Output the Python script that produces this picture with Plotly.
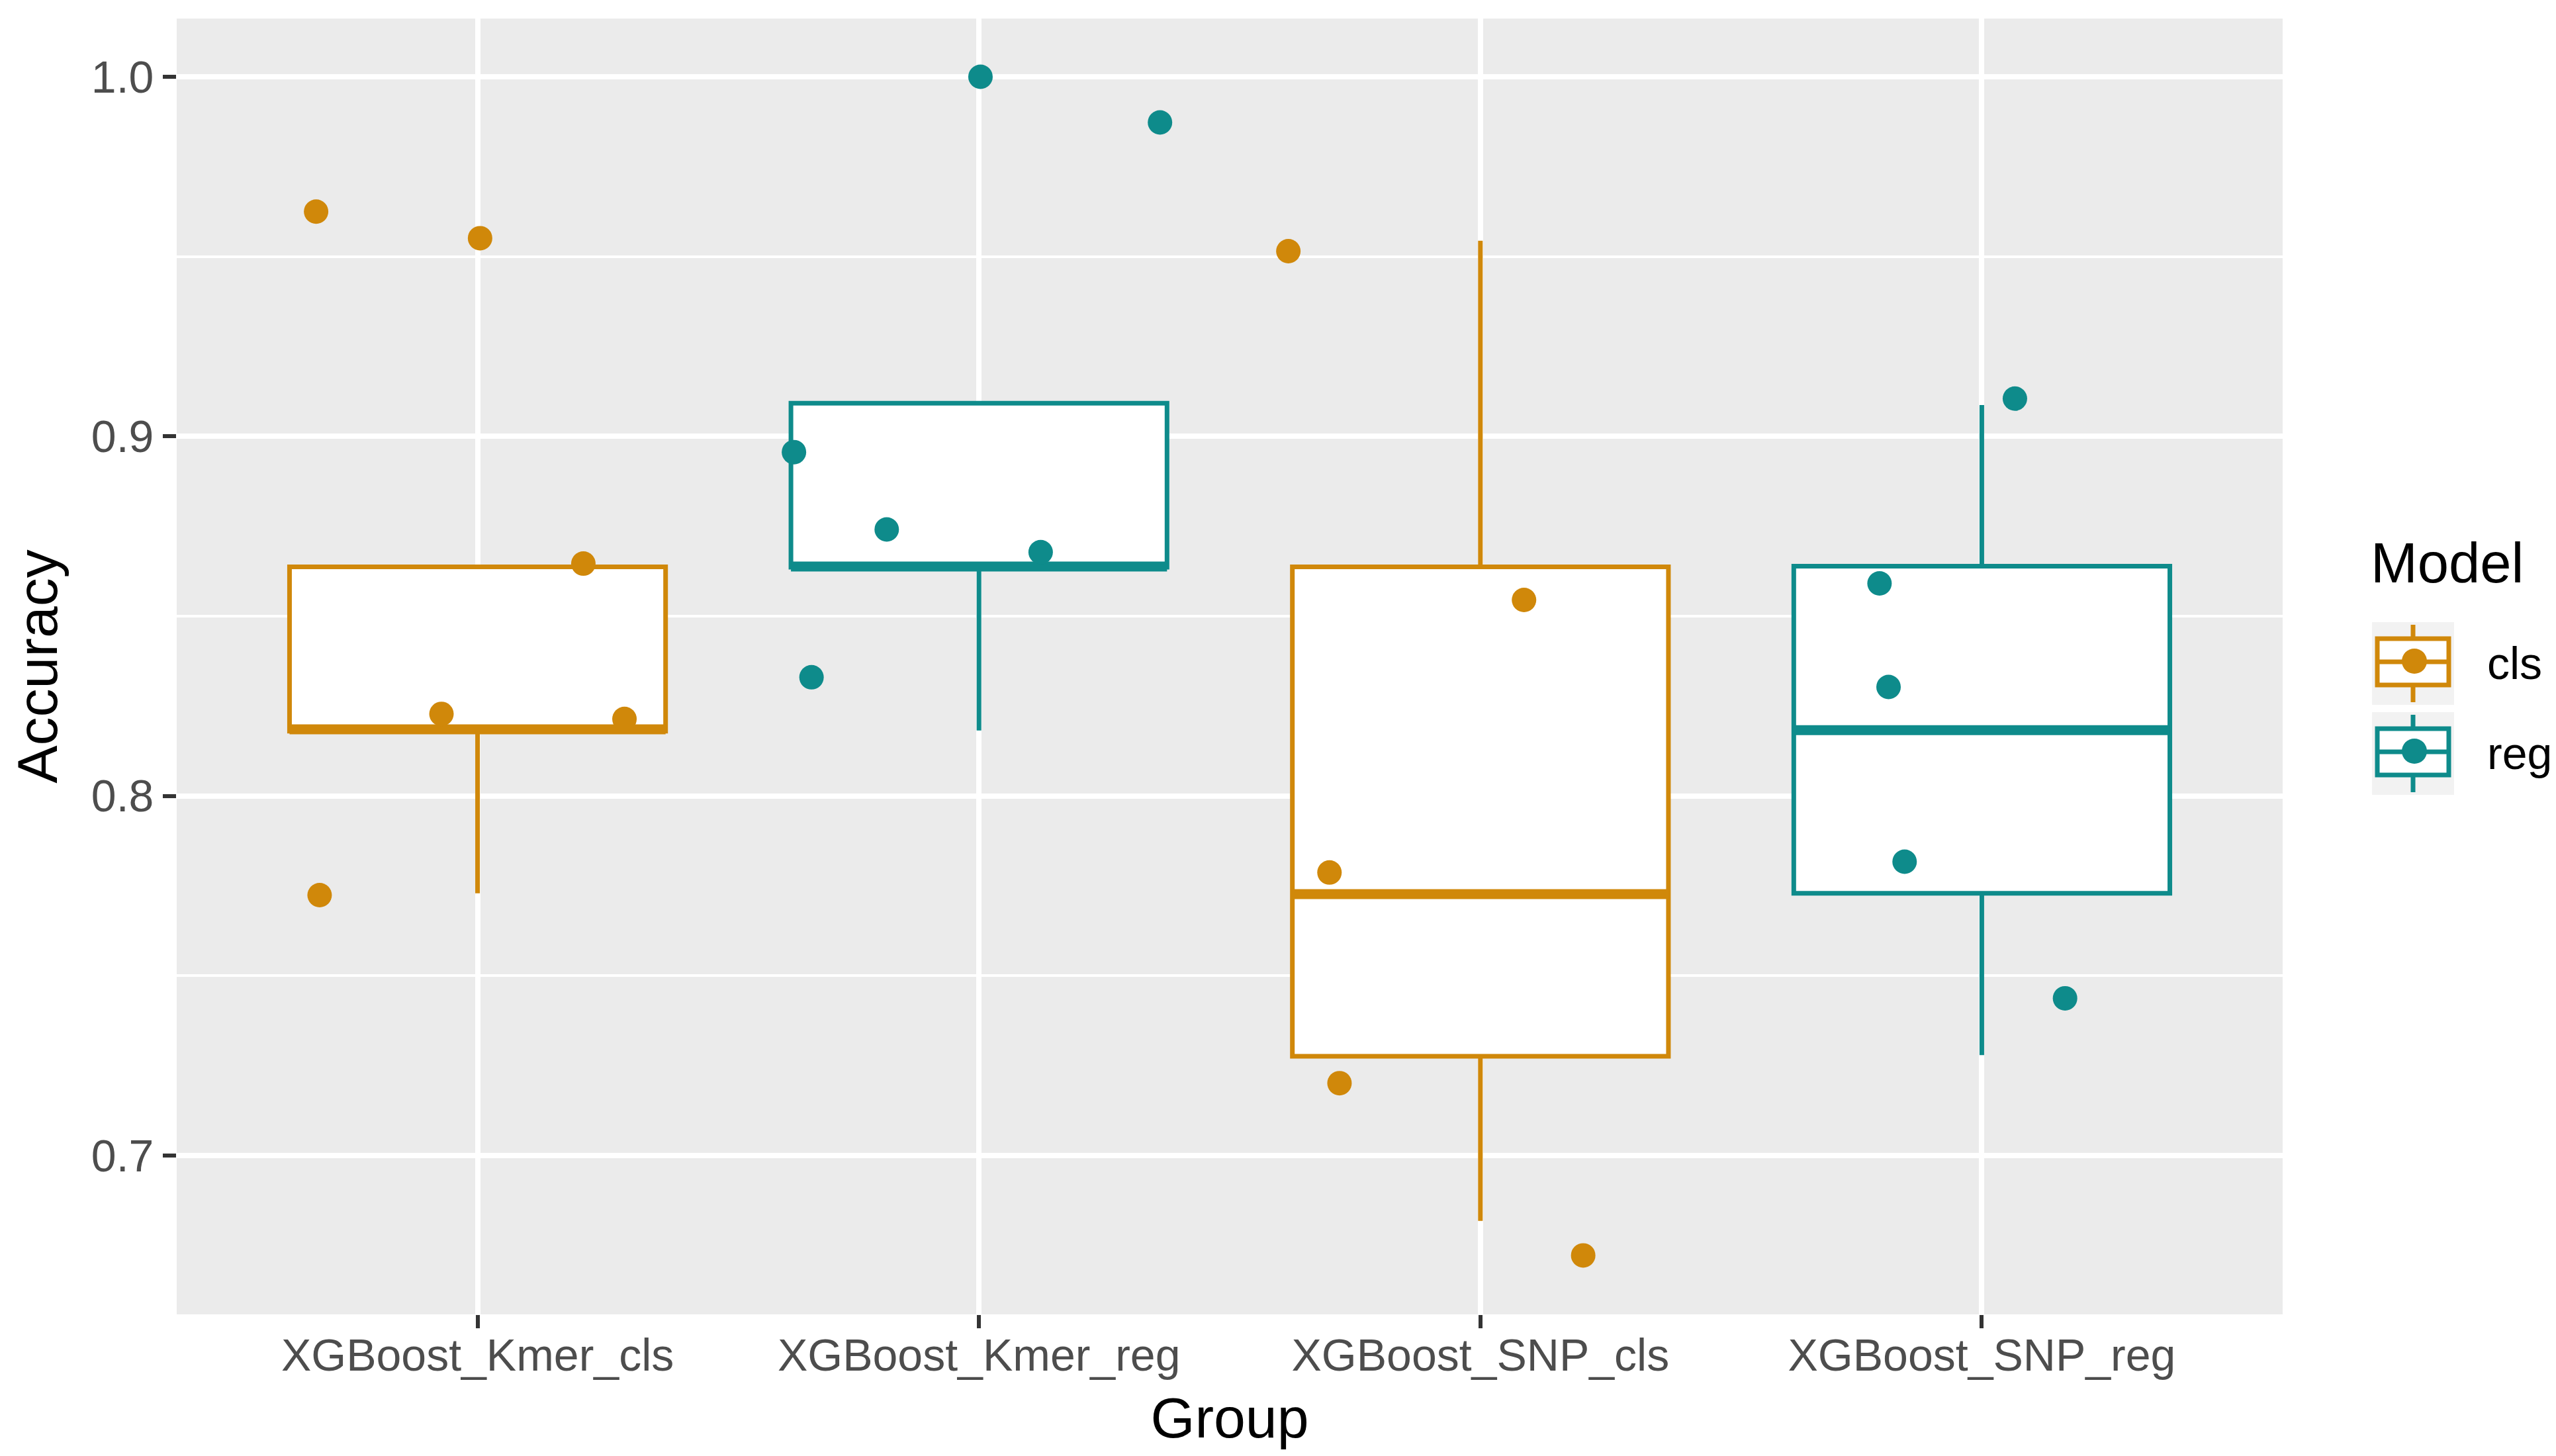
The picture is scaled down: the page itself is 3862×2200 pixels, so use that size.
import plotly.graph_objects as go

# ---- data ----
groups = ["XGBoost_Kmer_cls", "XGBoost_Kmer_reg", "XGBoost_SNP_cls", "XGBoost_SNP_reg"]
group_model = ["cls", "reg", "cls", "reg"]

box_lower = [0.7729, 0.8182, 0.6818, 0.7279]
box_q1 = [0.8180, 0.8636, 0.7276, 0.7729]
box_median = [0.8185, 0.8638, 0.7727, 0.8183]
box_q3 = [0.8637, 0.9092, 0.8637, 0.8639]
box_upper = [0.8637, 0.9092, 0.9544, 0.9087]

pt_group = [0, 0, 0, 0, 0, 0, 1, 1, 1, 1, 1, 1, 2, 2, 2, 2, 2, 3, 3, 3, 3, 3]
pt_jitter = [-0.322, 0.005, 0.211, -0.072, 0.293, -0.315,
             0.003, 0.361, -0.369, -0.184, 0.123, -0.334,
             -0.383, 0.087, -0.301, -0.281, 0.205,
             0.066, -0.204, -0.186, -0.154, 0.166]
pt_acc = [0.9625, 0.9551, 0.8646, 0.8228, 0.8214, 0.7724,
          1.0000, 0.9873, 0.8956, 0.8741, 0.8678, 0.8330,
          0.9515, 0.8545, 0.7787, 0.7201, 0.6722,
          0.9105, 0.8591, 0.8303, 0.7817, 0.7437]

models = ["cls", "reg"]
colors = {"cls": "#D0880A", "reg": "#0E8B8B"}

BOX_W = 0.75
FONT = "Liberation Sans, Arial, sans-serif"

fig = go.Figure()

# boxes
for m in models:
    idx = [i for i, g in enumerate(group_model) if g == m]
    fig.add_trace(go.Box(
        x=idx,
        q1=[box_q1[i] for i in idx],
        median=[box_median[i] for i in idx],
        q3=[box_q3[i] for i in idx],
        lowerfence=[box_lower[i] for i in idx],
        upperfence=[box_upper[i] for i in idx],
        width=BOX_W,
        whiskerwidth=0,
        boxpoints=False,
        fillcolor="white",
        line=dict(color=colors[m], width=7),
        showlegend=False,
        hoverinfo="skip",
    ))

# thick median lines (ggplot fatten = 2)
for m in models:
    mx, my = [], []
    for i, g in enumerate(group_model):
        if g == m:
            mx += [i - BOX_W / 2, i + BOX_W / 2, None]
            my += [box_median[i], box_median[i], None]
    fig.add_trace(go.Scatter(x=mx, y=my, mode="lines",
                             line=dict(color=colors[m], width=15),
                             showlegend=False, hoverinfo="skip"))

# jittered points
for m in models:
    xs = [pt_group[k] + pt_jitter[k] for k in range(len(pt_acc)) if group_model[pt_group[k]] == m]
    ys = [pt_acc[k] for k in range(len(pt_acc)) if group_model[pt_group[k]] == m]
    fig.add_trace(go.Scatter(x=xs, y=ys, mode="markers", name=m,
                             marker=dict(color=colors[m], size=37, line=dict(width=0)),
                             showlegend=False))

# ---- hand-made ggplot style legend (pixel helpers) ----
L, R, T, B = 259, 3441, 20, 1978


def px(X):
    return (X - L) / (R - L)


def py(Y):
    return 1 - (Y - T) / (B - T)


shapes = []
annotations = [dict(text="Model", x=px(3572), y=py(842), xref="paper", yref="paper",
                    xanchor="left", yanchor="middle", showarrow=False,
                    font=dict(family=FONT, size=85, color="black"))]
for k, m in enumerate(models):
    top = 932 + k * 136
    c = colors[m]
    shapes.append(dict(type="rect", xref="paper", yref="paper", layer="above",
                       x0=px(3576), x1=px(3700), y0=py(top), y1=py(top + 125),
                       fillcolor="#F2F2F2", line=dict(width=0)))
    shapes.append(dict(type="line", xref="paper", yref="paper", layer="above",
                       x0=px(3638), x1=px(3638), y0=py(top + 4), y1=py(top + 121),
                       line=dict(color=c, width=7)))
    shapes.append(dict(type="rect", xref="paper", yref="paper", layer="above",
                       x0=px(3584), x1=px(3692), y0=py(top + 25), y1=py(top + 95),
                       fillcolor="white", line=dict(color=c, width=7)))
    shapes.append(dict(type="line", xref="paper", yref="paper", layer="above",
                       x0=px(3584), x1=px(3692), y0=py(top + 60), y1=py(top + 60),
                       line=dict(color=c, width=7)))
    shapes.append(dict(type="circle", xref="paper", yref="paper", layer="above",
                       x0=px(3621), x1=px(3659), y0=py(top + 40), y1=py(top + 78),
                       fillcolor=c, line=dict(width=0)))
    annotations.append(dict(text=m, x=px(3748), y=py(top + 62), xref="paper", yref="paper",
                            xanchor="left", yanchor="middle", showarrow=False,
                            font=dict(family=FONT, size=68, color="black")))

fig.update_layout(
    width=3862, height=2200,
    margin=dict(l=L, r=3862 - R, t=T, b=2200 - B, autoexpand=False),
    paper_bgcolor="white",
    plot_bgcolor="#EBEBEB",
    showlegend=False,
    font=dict(family=FONT),
    shapes=shapes,
    annotations=annotations,
)

fig.update_xaxes(
    range=[-0.6, 3.6],
    tickmode="array", tickvals=list(range(len(groups))), ticktext=groups,
    showgrid=True, gridcolor="white", gridwidth=8,
    zeroline=False, showline=False,
    ticks="outside", ticklen=20, tickwidth=6, tickcolor="#333333",
    ticklabelstandoff=-18,
    tickfont=dict(family=FONT, size=68, color="#4D4D4D"),
    title=dict(text="Group", font=dict(family=FONT, size=86, color="black"), standoff=28),
)

fig.update_yaxes(
    range=[0.6558, 1.0162],
    tickmode="array", tickvals=[0.7, 0.8, 0.9, 1.0], ticktext=["0.7", "0.8", "0.9", "1.0"],
    showgrid=True, gridcolor="white", gridwidth=8,
    minor=dict(tickvals=[0.75, 0.85, 0.95], showgrid=True, gridcolor="white", gridwidth=4, ticks=""),
    zeroline=False, showline=False,
    ticks="outside", ticklen=20, tickwidth=6, tickcolor="#333333",
    tickfont=dict(family=FONT, size=68, color="#4D4D4D"),
    title=dict(text="Accuracy", font=dict(family=FONT, size=86, color="black"), standoff=30),
)

fig.write_html("out.html")
